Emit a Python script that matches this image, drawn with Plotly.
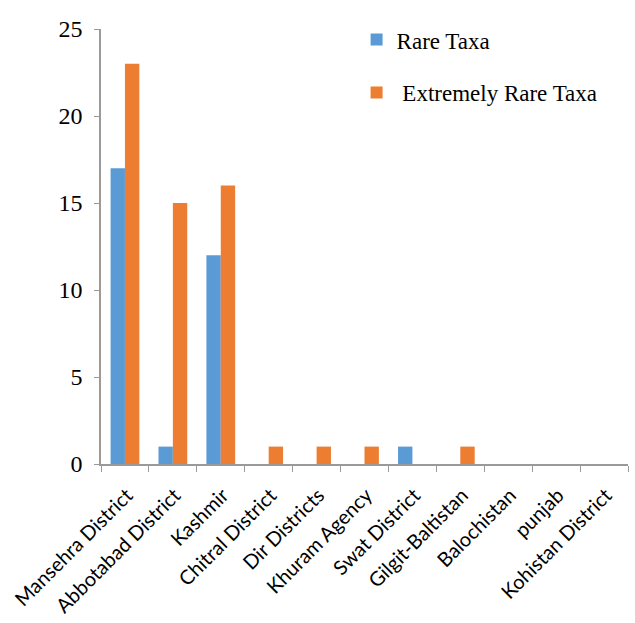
import plotly.graph_objects as go

categories = ["Mansehra District", "Abbotabad District", "Kashmir", "Chitral District",
              "Dir Districts", "Khuram Agency", "Swat District", "Gilgit-Baltistan",
              "Balochistan", "punjab", "Kohistan District"]
rare_taxa = [17, 1, 12, 0, 0, 0, 1, 0, 0, 0, 0]
extremely_rare_taxa = [23, 15, 16, 1, 1, 1, 0, 1, 0, 0, 0]
y_ticks = [0, 5, 10, 15, 20, 25]

fig = go.Figure()
fig.add_trace(go.Bar(x=categories, y=rare_taxa, name="Rare Taxa",
                     marker=dict(color="#5B9BD5", line=dict(width=0)), legendgroup="a"))
fig.add_trace(go.Bar(x=categories, y=extremely_rare_taxa, name=" Extremely Rare Taxa",
                     marker=dict(color="#ED7D31", line=dict(width=0)), legendgroup="b"))

fig.update_layout(
    width=635, height=623,
    margin=dict(l=101, r=7, t=29, b=159),
    paper_bgcolor="white", plot_bgcolor="white",
    barmode="group", bargap=0.4, bargroupgap=0,
    showlegend=True,
    legend=dict(x=0.485, y=1.025, xanchor="left", yanchor="top",
                font=dict(family="Liberation Serif", size=23, color="black"),
                tracegroupgap=20, itemwidth=30, bgcolor="rgba(0,0,0,0)"),
    xaxis=dict(tickangle=-45, tickson="boundaries", ticks="outside", ticklen=6,
               tickcolor="#9a9a9a", showline=True, linecolor="#9a9a9a", linewidth=1.5,
               ticklabelstandoff=10, ticklabelshift=2,
               tickfont=dict(family="Lato", size=20, color="black"), showgrid=False),
    yaxis=dict(range=[0, 25], tickvals=y_ticks, ticks="outside", ticklen=5,
               tickcolor="#9a9a9a", showline=True, linecolor="#9a9a9a", linewidth=1.5,
               showgrid=False, zeroline=False, ticklabelstandoff=7,
               tickfont=dict(family="Liberation Serif", size=24, color="black")),
)

fig.write_html("out.html")
